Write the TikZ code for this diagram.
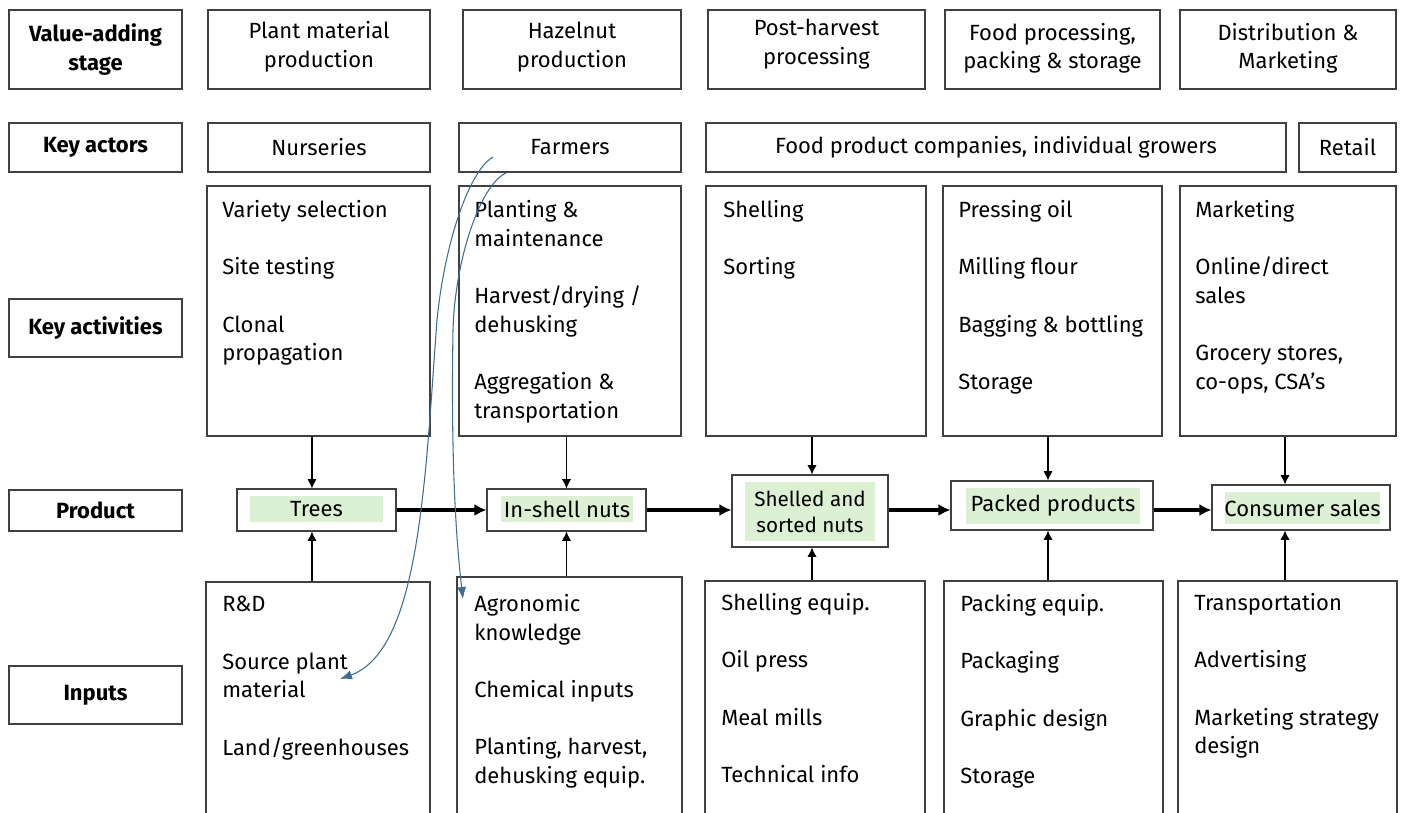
\documentclass[tikz,border=0pt]{standalone}
\usepackage{fontspec}
\setmainfont{Fira Sans}
\usetikzlibrary{arrows.meta,fit}

\definecolor{boxgray}{RGB}{64,64,64}
\definecolor{prodgreen}{RGB}{220,240,212}
\definecolor{linkblue}{RGB}{62,110,145}

\newcommand{\skipline}{\\[21.5pt]}

\begin{document}
\begin{tikzpicture}[
  x=0.75pt, y=-0.75pt,
  every node/.style={font=\fontsize{16.5}{21.5}\selectfont},
  box/.style={draw=boxgray, line width=0.8pt, inner sep=0pt},
  label text/.style={inner sep=0pt, align=center},
  head text/.style={label text, font=\fontsize{16.5}{21.5}\selectfont\bfseries},
  items/.style={inner sep=0pt, anchor=north west, align=left},
  tag/.style={fill=prodgreen, inner sep=0pt},
  flow/.style={-{Latex[length=9pt,width=9pt]}, line width=2.4pt},
  feed/.style={-{Latex[length=7pt,width=7pt]}, line width=0.9pt},
  link/.style={-{Latex[length=9pt,width=7pt]}, draw=linkblue, line width=0.8pt}
]
\useasboundingbox (0,0) rectangle (1403,813);

% row headers
\foreach \nm/\ya/\yb/\txt in {hstage/10/89/{Value-adding\\stage}, hactor/123/172/Key actors,
                               hact/299/357/Key activities, hprod/490/531/Product, hin/666/724/Inputs}
{
  \node[box, fit={(9,\ya) (182,\yb)}] (\nm) {};
  \node[head text] (\nm-txt) at (\nm) {\txt};
}

% value-adding stages
\foreach \nm/\xa/\xb/\dy/\txt in {st1/208/430/2/{Plant material\\production}, st2/463/681/2/{Hazelnut\\production},
                                  st3/708/925/4/{Post-harvest\\processing}, st4/945/1160/1/{Food processing,\\packing \& storage},
                                  st5/1180/1396/1/{Distribution \&\\Marketing}}
{
  \node[box, fit={(\xa,10) (\xb,89)}] (\nm) {};
  \node[label text, yshift=\dy pt] (\nm-txt) at (\nm) {\txt};
}

% key actors
\foreach \nm/\xa/\xb/\txt in {nurs/208/430/Nurseries, farm/459/681/Farmers,
                              comp/706/1286/{Food product companies, individual growers}, retail/1299/1396/Retail}
{
  \node[box, fit={(\xa,123) (\xb,172)}] (\nm) {};
  \node[label text] (\nm-txt) at (\nm) {\txt};
}

% key activities
\node[box, fit={(207,186) (430,436)}] (act1) {};
\node[box, fit={(459,186) (681,436)}] (act2) {};
\node[box, fit={(706,186) (926,436)}] (act3) {};
\node[box, fit={(943,186) (1162,436)}] (act4) {};
\node[box, fit={(1180,186) (1396,436)}] (act5) {};
\node[items] (act1-txt) at (222,200) {Variety selection\skipline Site testing\skipline Clonal\\propagation};
\node[items] (act2-txt) at (474,200) {Planting \&\\maintenance\skipline Harvest/drying /\\dehusking\skipline Aggregation \&\\transportation};
\node[items] (act3-txt) at (723,200) {Shelling\skipline Sorting};
\node[items] (act4-txt) at (958,200) {Pressing oil\skipline Milling flour\skipline Bagging \& bottling\skipline Storage};
\node[items] (act5-txt) at (1195,200) {Marketing\skipline Online/direct\\sales\skipline Grocery stores,\\co-ops, CSA’s};

% products
\node[box, fit={(237,489) (396,531)}] (trees) {};
\node[tag, fit={(250,496) (383,522)}] (trees-tag) {};
\node[label text] (trees-txt) at (trees-tag) {Trees};
\node[box, fit={(487,489) (646,531)}] (inshell) {};
\node[tag, fit={(501,496) (633,522)}] (inshell-tag) {};
\node[label text] (inshell-txt) at (inshell-tag) {In-shell nuts};
\node[box, fit={(732,475) (888,547)}] (shelled) {};
\node[tag, fit={(745,482) (875,541)}] (shelled-tag) {};
\node[label text, font=\fontsize{15.5}{19.5}\selectfont] (shelled-txt) at (shelled-tag) {Shelled and\\sorted nuts};
\node[box, fit={(951,481) (1153,530)}] (packed) {};
\node[tag, fit={(966,488) (1140,524)}] (packed-tag) {};
\node[label text] (packed-txt) at (packed-tag) {Packed products};
\node[box, fit={(1212,485) (1390,530)}] (consumer) {};
\node[tag, fit={(1225,492) (1380,524)}] (consumer-tag) {};
\node[label text] (consumer-txt) at (consumer-tag) {Consumer sales};

% inputs (run off the bottom edge)
\node[box, fit={(206,582) (430,830)}] (in1) {};
\node[box, fit={(457,577) (682,830)}] (in2) {};
\node[box, fit={(705,581) (925,830)}] (in3) {};
\node[box, fit={(944,581) (1163,830)}] (in4) {};
\node[box, fit={(1178,581) (1397,830)}] (in5) {};
\node[items] (in1-txt) at (222,596) {R\&D\skipline Source plant\\material\skipline Land/greenhouses};
\node[items] (in2-txt) at (474,594) {Agronomic\\knowledge\skipline Chemical inputs\skipline Planting, harvest,\\dehusking equip.};
\node[items] (in3-txt) at (721,593) {Shelling equip.\skipline Oil press\skipline Meal mills\skipline Technical info};
\node[items] (in4-txt) at (960,594) {Packing equip.\skipline Packaging\skipline Graphic design\skipline Storage};
\node[items] (in5-txt) at (1194,593) {Transportation\skipline Advertising\skipline Marketing strategy\\design};

% product flow
\foreach \a/\b in {trees/inshell, inshell/shelled, shelled/packed, packed/consumer}
  \draw[flow] (\a.east |- trees.east) -- (\b.west |- trees.east);

% activities down, inputs up
\foreach \a/\b/\c/\s in {act1/trees/in1/-3.4, act2/inshell/in2/0, act3/shelled/in3/1.5,
                         act4/packed/in4/-3, act5/consumer/in5/-12}
{
  \draw[feed] ([xshift=\s pt]\b.north |- \a.south) -- ([xshift=\s pt]\b.north);
  \draw[feed] ([xshift=\s pt]\b.south |- \c.north) -- ([xshift=\s pt]\b.south);
}

% blue links from farmers
\coordinate (fa) at (493,157);
\coordinate (fb) at (506,173);
\coordinate (srcmat) at (340,679);
\coordinate (agro) at (463,599);
\draw[link] (fa) .. controls (470,170) and (445,240) .. (437,320)
  .. controls (425,480) and (420,650) .. (srcmat);
\draw[link] (fb) .. controls (480,185) and (455,260) .. (453,330)
  .. controls (451,450) and (455,530) .. (agro);

\end{tikzpicture}
\end{document}
